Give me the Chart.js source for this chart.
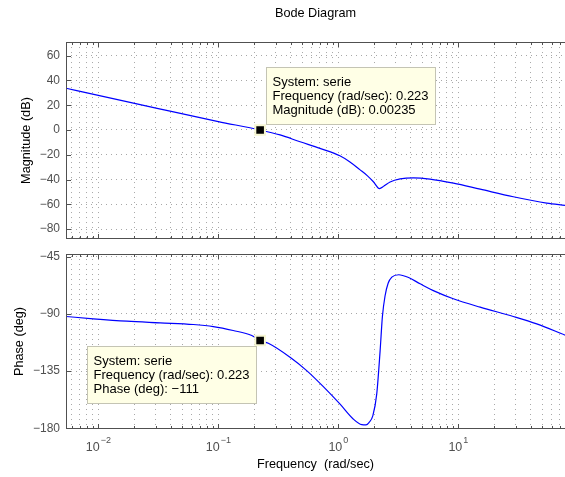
<!DOCTYPE html>
<html><head><meta charset="utf-8">
<script src="https://cdn.jsdelivr.net/npm/chart.js@4.4.0/dist/chart.umd.min.js"></script>
<style>
html,body{margin:0;padding:0;background:#fff;}
#wrap{position:relative;width:565px;height:477px;overflow:hidden;background:#fff;}
canvas{position:absolute;left:0;top:0;}
</style></head><body>
<div id="wrap"><canvas id="mag" width="565" height="477"></canvas><canvas id="phase" width="565" height="477"></canvas></div>
<script>
// ---- data ----
const magFreq = [0.00538, 0.01, 0.0316, 0.1, 0.223, 0.327, 0.48, 0.703, 1.03, 1.25, 1.51, 1.75, 1.96, 2.2, 2.4, 2.7, 3.27, 4.22, 5.8, 9.1, 15.2, 28.7, 54.5, 77.4];
const magDb   = [33.7, 28.0, 17.3, 6.8, 0.0, -4.0, -9.5, -14.8, -20.8, -25.8, -32.0, -37.0, -41.8, -47.3, -45.3, -42.0, -39.5, -38.6, -39.6, -42.9, -47.8, -53.9, -59.0, -60.8];
const phaseFreq = [0.00538, 0.00908, 0.0173, 0.0327, 0.0619, 0.0908, 0.133, 0.19, 0.223, 0.261, 0.396, 0.545, 0.75, 1.03, 1.33, 1.57, 1.70, 1.80, 1.94, 2.09, 2.23, 2.33, 2.45, 2.6, 2.79, 3.19, 3.85, 4.8, 6.4, 9.08, 15.2, 28.7, 45, 77.4];
const phaseDeg  = [-92.1, -93.9, -95.8, -97.1, -98.4, -100.0, -103.1, -107.0, -111, -113.1, -124.1, -134.6, -147.2, -160.8, -172.6, -177.1, -177.3, -175.5, -170, -152.9, -118.9, -92, -76, -66, -61.2, -59.3, -61.5, -66.4, -72.4, -78.2, -84.8, -92.1, -97.9, -106.7];
const magTicks = [-80, -60, -40, -20, 0, 20, 40, 60];
const phaseTicks = [-180, -135, -90, -45];
const decadeExps = [-2, -1, 0, 1];
const freqRange = [0.00538, 77.4];
const magRange = [-88, 71];
const phaseRange = [-180.5, -43];
const tipSystem = 'serie';
const tipFreq = 0.223;
const tipMag = 0.00235;
const tipPhase = -111;

const FONT = "'Liberation Sans', Arial, Helvetica, sans-serif";
Chart.defaults.font.family = FONT;
const minus = s => String(s).replace('-', '\u2212');

// grid values: every 1..9 x 10^k inside the range
const gridVals = [];
for (let e = -3; e <= 2; e++) for (let m = 1; m <= 9; m++) {
  const v = m * Math.pow(10, e);
  if (v >= freqRange[0] && v <= freqRange[1]) gridVals.push(v);
}
const isDecade = v => Math.abs(Math.log10(v) - Math.round(Math.log10(v))) < 1e-9;

const framePlugin = {
  id: 'frame',
  afterDraw(chart) {
    const {ctx, chartArea: a, scales} = chart;
    ctx.save();
    ctx.strokeStyle = '#505050';
    ctx.lineWidth = 1;
    ctx.beginPath();
    scales.x.ticks.forEach(t => {
      const px = Math.round(scales.x.getPixelForValue(t.value)) + 0.5;
      const len = isDecade(t.value) ? 5 : 3;
      ctx.moveTo(px, a.top); ctx.lineTo(px, a.top + len);
      ctx.moveTo(px, a.bottom); ctx.lineTo(px, a.bottom - len);
    });
    scales.y.ticks.forEach(t => {
      const py = Math.round(scales.y.getPixelForValue(t.value)) + 0.5;
      ctx.moveTo(a.left, py); ctx.lineTo(a.left + 5, py);
    });
    ctx.stroke();
    ctx.strokeRect(Math.round(a.left) + 0.5, Math.round(a.top) + 0.5, Math.round(a.right - a.left) + 2, Math.round(a.bottom - a.top) - 1);
    ctx.restore();
  }
};

const xLabelPlugin = {
  id: 'xlabels',
  afterDraw(chart, args, o) {
    if (!o || !o.show) return;
    const {ctx, chartArea: a} = chart;
    const x = chart.scales.x;
    ctx.save();
    ctx.fillStyle = '#505050';
    ctx.textBaseline = 'alphabetic';
    ctx.textAlign = 'left';
    decadeExps.forEach(e => {
      const px = x.getPixelForValue(Math.pow(10, e));
      const es = minus(e);
      ctx.font = '12.5px ' + FONT;
      const w1 = ctx.measureText('10').width;
      ctx.font = '9px ' + FONT;
      const w2 = ctx.measureText(es).width;
      const start = px - (w1 + w2 + 1) / 2;
      ctx.font = '12.5px ' + FONT;
      ctx.fillText('10', start, a.bottom + 21.5);
      ctx.font = '9px ' + FONT;
      ctx.fillText(es, start + w1 + 1, a.bottom + 14);
    });
    ctx.restore();
  }
};

const tipPlugin = {
  id: 'datatip',
  afterDatasetsDraw(chart, args, o) {
    if (!o || !o.lines) return;
    const {ctx} = chart;
    const px = chart.scales.x.getPixelForValue(o.x);
    const py = chart.scales.y.getPixelForValue(o.y);
    ctx.save();
    ctx.font = '13px ' + FONT;
    const tw = Math.max(...o.lines.map(l => ctx.measureText(l).width));
    const w = Math.round(tw + 13), h = 57;
    let bx, by;
    if (o.side === 'upright') { bx = Math.round(px + 6); by = Math.round(py - 6 - h); }
    else { bx = Math.round(px - 4 - w); by = Math.round(py + 5); }
    ctx.fillStyle = '#ffffe6';
    ctx.fillRect(bx, by, w, h);
    ctx.strokeStyle = '#c4c4b4';
    ctx.lineWidth = 1;
    ctx.strokeRect(bx + 0.5, by + 0.5, w, h);
    ctx.fillStyle = '#000';
    ctx.textBaseline = 'middle';
    ctx.textAlign = 'left';
    o.lines.forEach((l, i) => ctx.fillText(l, bx + 6.5, by + 15 + i * 14.4));
    ctx.restore();
  }
};

function makeChart(id, opt) {
  return new Chart(document.getElementById(id), {
    type: 'line',
    data: {
      datasets: [
        {
          data: [{x: tipFreq, y: opt.tipY}],
          showLine: false,
          pointStyle: 'rect',
          pointRadius: 6.8,
          pointBackgroundColor: '#000',
          pointBorderColor: '#f6f6d2',
          pointBorderWidth: 2,
          order: -1
        },
        {
          data: opt.freq.map((f, i) => ({x: f, y: opt.vals[i]})),
          borderColor: '#0000ff',
          borderWidth: 1.2,
          pointRadius: 0,
          cubicInterpolationMode: 'monotone',
          fill: false,
          order: 1
        }
      ]
    },
    options: {
      responsive: false,
      animation: false,
      devicePixelRatio: 1,
      events: [],
      layout: {padding: opt.padding, autoPadding: false},
      plugins: {
        legend: {display: false},
        tooltip: {enabled: false},
        title: opt.title,
        xlabels: {show: opt.xlabels},
        datatip: opt.tip
      },
      scales: {
        x: {
          type: 'logarithmic',
          min: freqRange[0], max: freqRange[1],
          afterBuildTicks: s => { s.ticks = gridVals.map(v => ({value: v})); },
          afterFit: s => { s.height = opt.xHeight; s.paddingLeft = 0; s.paddingRight = 0; },
          ticks: {display: false},
          grid: {color: '#a8a8a8', lineWidth: 1, drawTicks: false},
          border: {display: false, dash: [1, 4]},
          title: opt.xTitle
        },
        y: {
          type: 'linear',
          min: opt.range[0], max: opt.range[1],
          afterBuildTicks: s => { s.ticks = opt.ticks.map(v => ({value: v})); },
          afterFit: s => { s.width = 66; s.paddingTop = 0; s.paddingBottom = 0; },
          ticks: {color: '#505050', font: {size: 12}, padding: 6, callback: v => minus(v)},
          grid: {color: '#a8a8a8', lineWidth: 1, drawTicks: false},
          border: {display: false, dash: [1, 4]},
          title: {display: true, text: opt.yTitle, color: '#000', font: {size: 12.7}, padding: {top: opt.yTitlePad, bottom: 0}}
        }
      }
    },
    plugins: [framePlugin, xLabelPlugin, tipPlugin]
  });
}

makeChart('mag', {
  freq: magFreq, vals: magDb, tipY: tipMag,
  range: magRange, ticks: magTicks,
  yTitle: 'Magnitude (dB)', yTitlePad: 18.4,
  padding: {left: 0, right: 0, top: 0, bottom: 238},
  xHeight: 0,
  xTitle: {display: false},
  xlabels: false,
  title: {display: true, text: 'Bode Diagram', color: '#000', font: {size: 12.7, weight: 'normal'}, fullSize: false, padding: {top: 5.4, bottom: 21.4}},
  tip: {x: tipFreq, y: tipMag, side: 'upright', lines: ['System: ' + tipSystem, 'Frequency (rad/sec): ' + tipFreq, 'Magnitude (dB): ' + tipMag]}
});

makeChart('phase', {
  freq: phaseFreq, vals: phaseDeg, tipY: tipPhase,
  range: phaseRange, ticks: phaseTicks,
  yTitle: 'Phase (deg)', yTitlePad: 11.4,
  padding: {left: 0, right: 0, top: 254, bottom: 0},
  xHeight: 48,
  xTitle: {display: true, text: 'Frequency  (rad/sec)', color: '#000', font: {size: 12.7}, padding: {top: 0, bottom: 4.4}},
  xlabels: true,
  title: {display: false},
  tip: {x: tipFreq, y: tipPhase, side: 'downleft', lines: ['System: ' + tipSystem, 'Frequency (rad/sec): ' + tipFreq, 'Phase (deg): ' + minus(tipPhase)]}
});
</script>
</body></html>
